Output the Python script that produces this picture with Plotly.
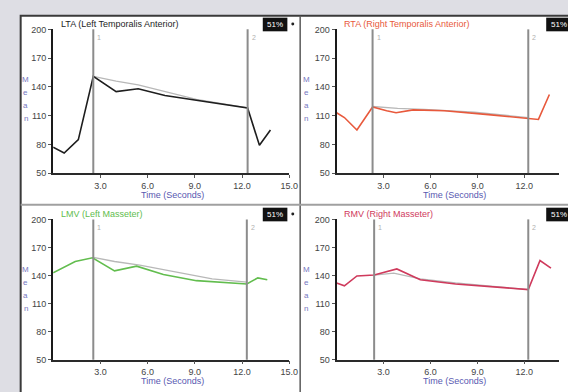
import plotly.graph_objects as go

W, H = 568, 392

# ---------------- data ----------------
lta_t = [0, 0.7, 1.6, 2.55, 4.0, 5.4, 7.1, 9.1, 12.35, 13.1, 13.8]
lta_v = [77, 71, 85, 151, 135, 138, 131, 126, 118, 79, 95]
lta_fit_t = [2.55, 4.0, 5.4, 7.1, 9.1, 12.35]
lta_fit_v = [151, 146, 142, 135, 127, 118]

rta_t = [0, 0.5, 1.3, 2.3, 3.2, 3.8, 4.9, 6.9, 9.7, 11.9, 12.9, 13.6]
rta_v = [113, 108, 95, 119, 115, 113, 116, 115, 111, 108, 106, 132]
rta_fit_t = [2.3, 3.9, 5.6, 8.8, 12.25]
rta_fit_v = [119.5, 117.5, 116.5, 113.5, 108]

lmv_t = [0, 1.4, 2.5, 3.9, 5.3, 7.0, 9.1, 11.1, 12.3, 13.0, 13.6]
lmv_v = [143, 155, 159, 145, 150, 141, 134.5, 132.5, 131, 137.5, 135.5]
lmv_fit_t = [2.55, 3.9, 5.5, 8.0, 10.1, 12.3]
lmv_fit_v = [159.5, 155, 151, 143, 136.5, 133]

rmv_t = [0, 0.5, 1.3, 2.4, 3.85, 5.35, 7.6, 9.9, 12.25, 13.0, 13.7]
rmv_v = [132, 129, 139.5, 140.5, 147, 135.5, 131, 128, 125, 156, 148]
rmv_fit_t = [2.4, 3.65, 5.35, 7.6, 12.25]
rmv_fit_v = [140.5, 142.5, 136.5, 132, 125]

titles = ["LTA (Left Temporalis Anterior)", "RTA (Right Temporalis Anterior)",
          "LMV (Left Masseter)", "RMV (Right Masseter)"]
colors = ["#1e1e1e", "#e8593c", "#62bd4e", "#cf3a5c"]
markers = [[2.55, 12.35], [2.3, 12.25], [2.55, 12.3], [2.4, 12.25]]
badge_text = ["51%", "51%", "51%", "51%"]

y_ticks = [50, 80, 110, 140, 170, 200]
x_ticks = [3, 6, 9, 12, 15]
x_ticktext = ["3.0", "6.0", "9.0", "12.0", "15.0"]
y_title_letters = ["M", "e", "a", "n"]
x_title = "Time (Seconds)"

series = [(lta_t, lta_v, lta_fit_t, lta_fit_v),
          (rta_t, rta_v, rta_fit_t, rta_fit_v),
          (lmv_t, lmv_v, lmv_fit_t, lmv_fit_v),
          (rmv_t, rmv_v, rmv_fit_t, rmv_fit_v)]

# ---------------- layout helpers ----------------
def fx(px):
    return px / W

def fy(py):
    return 1 - py / H

FONT = "Liberation Sans, Arial, sans-serif"

# pixel geometry of each panel: (x0 px, x1 px, x range max, top px, bottom px)
panels = [
    (54, 294, 15.0, 25, 172.5),
    (342, 568, (568 - 342) / 15.9, 25, 172.5),
    (54, 294, 15.0, 220, 364),
    (342, 568, (568 - 342) / 15.9, 220, 364),
]

fig = go.Figure()
layout = dict(
    width=W, height=H,
    margin=dict(l=0, r=0, t=0, b=0),
    paper_bgcolor="#dedee4",
    plot_bgcolor="#ffffff",
    showlegend=False,
    font=dict(family=FONT, size=9, color="#333333"),
)

shapes = []
annotations = []


def note(x, y, text, size, color, xanchor="center", xref="paper", xshift=0):
    annotations.append(dict(xref=xref, yref="paper", x=x, y=y, text=text,
                            showarrow=False, xanchor=xanchor, yanchor="middle",
                            xshift=xshift,
                            font=dict(size=size, color=color, family=FONT)))


# white panel with dark border
shapes.append(dict(type="rect", xref="paper", yref="paper",
                   x0=fx(21), x1=fx(620), y0=fy(440), y1=fy(11),
                   fillcolor="#ffffff", line=dict(color="#3a3a3a", width=2),
                   layer="below"))
# separators
shapes.append(dict(type="line", xref="paper", yref="paper",
                   x0=fx(305), x1=fx(305), y0=fy(11), y1=fy(400),
                   line=dict(color="#5a5a5a", width=1.5)))
shapes.append(dict(type="line", xref="paper", yref="paper",
                   x0=fx(21), x1=fx(600), y0=fy(205), y1=fy(205),
                   line=dict(color="#a0a0a0", width=2)))

for i, (x0, x1, xmax, top, bot) in enumerate(panels):
    n = i + 1
    xa = "xaxis" if n == 1 else f"xaxis{n}"
    ya = "yaxis" if n == 1 else f"yaxis{n}"
    xr = "x" if n == 1 else f"x{n}"
    yr = "y" if n == 1 else f"y{n}"
    layout[xa] = dict(domain=[fx(x0), fx(x1)], range=[0, xmax], anchor=yr,
                      showgrid=False, zeroline=False, showline=True,
                      linecolor="#2a2a2a", linewidth=1.5,
                      ticks="outside", ticklen=3, tickcolor="#555555",
                      tickvals=x_ticks, ticktext=x_ticktext,
                      tickfont=dict(size=9, color="#444444", family=FONT))
    layout[ya] = dict(domain=[fy(bot), fy(top)], range=[50, 200], anchor=xr,
                      showgrid=False, zeroline=False, showline=True,
                      linecolor="#1a1a1a", linewidth=2,
                      ticks="outside", ticklen=3, tickcolor="#555555",
                      tickvals=y_ticks,
                      tickfont=dict(size=9, color="#444444", family=FONT))

    t, v, ft, fv = series[i]
    fig.add_trace(go.Scatter(x=ft, y=fv, mode="lines", xaxis=xr, yaxis=yr,
                             line=dict(color="#b8b8b8", width=1.3),
                             hoverinfo="skip"))
    fig.add_trace(go.Scatter(x=t, y=v, mode="lines", xaxis=xr, yaxis=yr,
                             line=dict(color=colors[i], width=1.6)))

    # vertical marker lines
    for k, m in enumerate(markers[i]):
        shapes.append(dict(type="line", xref=xr, yref=f"{yr} domain",
                           x0=m, x1=m, y0=0, y1=1,
                           line=dict(color="#8c8c8c", width=2)))
        note(m, fy(top + 8), str(k + 1), 7, "#b0b0b0", xanchor="left",
             xref=xr, xshift=2)

    # title
    note(fx(x0 + 6), fy(top - 6), titles[i], 9, colors[i], xanchor="left")

    # y-axis title, stacked letters
    lx = 26 if x0 < 100 else 311
    for j, ch in enumerate(y_title_letters):
        note(fx(lx), fy(top + 51 + 13.5 * j), ch, 8, "#7676c0")

    # x-axis title
    note(fx(175 if x0 < 100 else 462), fy(bot + 22), x_title, 9, "#5858b0")

    # black badge at top right
    bx = 267 if x0 < 100 else 555
    shapes.append(dict(type="rect", xref="paper", yref="paper",
                       x0=fx(bx), x1=fx(bx + 25), y0=fy(top + 2), y1=fy(top - 12),
                       fillcolor="#111111", line=dict(width=0)))
    note(fx(bx + 12.5), fy(top - 5), badge_text[i], 8, "#ffffff")
    if x0 < 100:
        shapes.append(dict(type="circle", xref="paper", yref="paper",
                           x0=fx(296), x1=fx(299), y0=fy(top - 4), y1=fy(top - 7),
                           fillcolor="#222222", line=dict(width=0)))

layout["shapes"] = shapes
layout["annotations"] = annotations
fig.update_layout(**layout)
fig.write_html("out.html",
               config={"displayModeBar": False},
               post_script="document.body.style.margin='0';"
                           "document.body.style.overflow='hidden';")
